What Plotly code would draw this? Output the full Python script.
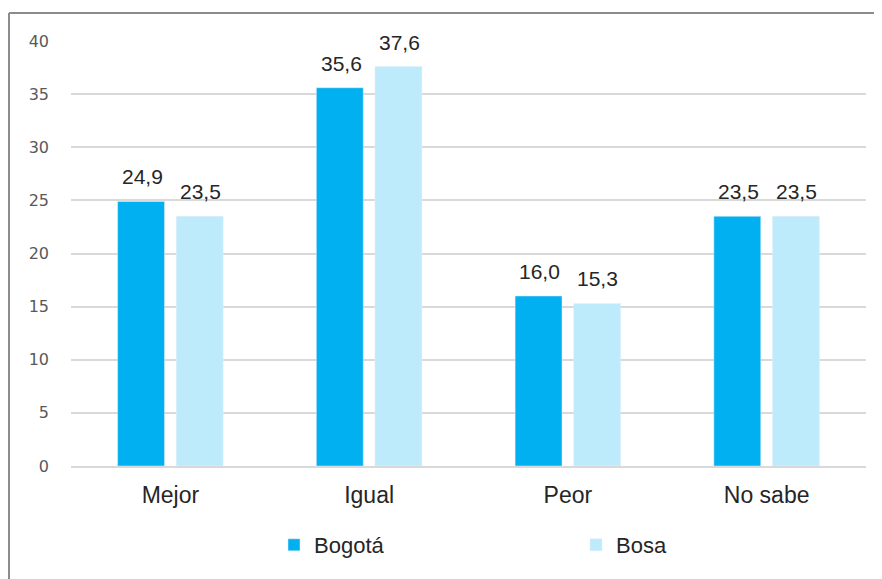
import plotly.graph_objects as go

categories = ["Mejor", "Igual", "Peor", "No sabe"]
bogota = [24.9, 35.6, 16.0, 23.5]
bosa = [23.5, 37.6, 15.3, 23.5]
series_names = ["Bogotá", "Bosa"]
y_ticks = [0, 5, 10, 15, 20, 25, 30, 35, 40]

c_bogota = "#00B0F0"
c_bosa = "#BDEBFC"
font_fam = "Liberation Sans, Arial, sans-serif"

fig = go.Figure()
fig.add_trace(go.Bar(name=series_names[0], x=categories, y=bogota, marker_color=c_bogota))
fig.add_trace(go.Bar(name=series_names[1], x=categories, y=bosa, marker_color=c_bosa))

def fmt(v):
    return f"{v:.1f}".replace(".", ",")

annotations = []
for vals, shift in ((bogota, -28), (bosa, 30)):
    for cat, v in zip(categories, vals):
        annotations.append(dict(x=cat, y=v, xref="x", yref="y", text=fmt(v),
                                showarrow=False, xshift=shift, yshift=11,
                                yanchor="bottom",
                                font=dict(family=font_fam, size=21, color="#262626")))

# page has an 8px body margin, so the figure is offset by 8px
OFF = 8
W, H = 882 - OFF, 579 - OFF
ml, mr, mt, mb = 71 - OFF, 16, 41 - OFF, 113
pw, ph = W - ml - mr, H - mt - mb
def px_x(p):
    return (p - OFF - ml) / pw
def px_y(p):
    return (H - mb - (p - OFF)) / ph

shapes = [
    dict(type="line", xref="paper", yref="paper", x0=px_x(9), x1=px_x(890), y0=px_y(13), y1=px_y(13),
         line=dict(color="#8c8c8c", width=2)),
    dict(type="line", xref="paper", yref="paper", x0=px_x(9), x1=px_x(9), y0=px_y(13), y1=px_y(590),
         line=dict(color="#8c8c8c", width=2)),
]

fig.update_layout(
    width=W, height=H,
    margin=dict(l=ml, r=mr, t=mt, b=mb, autoexpand=False),
    paper_bgcolor="white", plot_bgcolor="white",
    barmode="group", bargap=0.41, bargroupgap=0.2,
    font=dict(family=font_fam, color="#262626"),
    annotations=annotations,
    shapes=shapes,
    legend=dict(orientation="h", x=px_x(274), xanchor="left", y=px_y(545), yanchor="middle",
                entrywidth=257, entrywidthmode="pixels",
                font=dict(family=font_fam, size=22, color="#262626")),
    showlegend=True,
)
fig.update_xaxes(showgrid=False, showline=True, linecolor="#d9d9d9", linewidth=2,
                 ticks="", tickfont=dict(family=font_fam, size=23, color="#262626"),
                 ticklabelstandoff=7)
fig.update_yaxes(range=[0, 40], tickvals=y_ticks, showgrid=True, gridcolor="#d9d9d9", gridwidth=2,
                 zeroline=False, showline=False, ticks="",
                 tickfont=dict(family="DejaVu Sans, sans-serif", size=16, color="#595959"),
                 ticklabelstandoff=21)

fig.write_html("out.html")
